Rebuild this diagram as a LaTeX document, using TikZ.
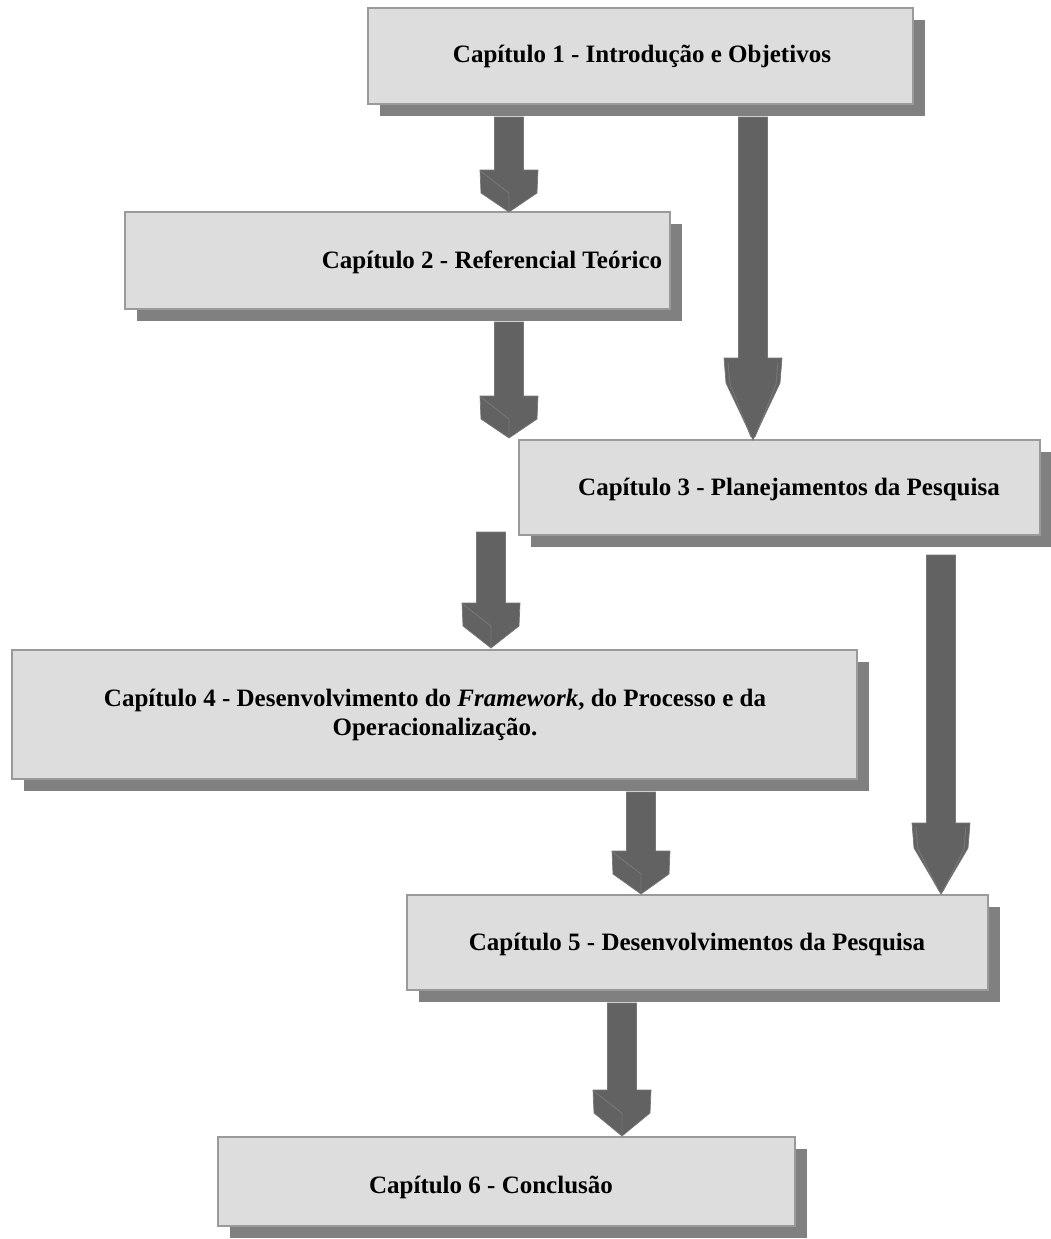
\documentclass[tikz,border=0pt]{standalone}
\usepackage{fontspec}
\setmainfont{Liberation Serif}
\usetikzlibrary{calc}

\definecolor{boxfill}{HTML}{DDDDDD}
\definecolor{boxline}{HTML}{9A9A9A}
\definecolor{shadowc}{HTML}{808080}
\definecolor{arrowc}{HTML}{626262}
\definecolor{arrowedge}{HTML}{777777}

\tikzset{
  chapbox/.style={draw=boxline, line width=1.2pt, fill=boxfill, inner sep=0pt, outer sep=0pt, anchor=north west},
  chapshadow/.style={fill=shadowc},
  chaptext/.style={font=\fontsize{25}{28.5}\selectfont\bfseries, align=center, inner sep=0pt},
  blockarrow/.style={fill=arrowc, draw=arrowedge, line width=0.7pt, line join=miter},
  facet/.style={draw=arrowedge, line width=0.9pt},
}

% chapter box with drop shadow: name, x1, y1, x2, y2 (pixel-style coordinates)
\newcommand\chapterbox[5]{%
  \fill[chapshadow] (#2+12,#3+12) rectangle (#4+12,#5+12);
  \node[chapbox, minimum width={(#4-#2)*1pt}, minimum height={(#5-#3)*1pt}] (#1) at (#2,#3) {};
}

% short block arrow: x, shaft top, head top, tip
\newcommand\shortarrow[4]{%
  \draw[blockarrow] (#1-14.5,#2) -- (#1+14.5,#2) -- (#1+14.5,#3) -- (#1+29,#3)
    -- (#1+28,#3+23) -- (#1,#4) -- (#1-28,#3+23) -- (#1-29,#3) -- (#1-14.5,#3) -- cycle;
  \draw[facet] (#1-28.5,#3+1) -- (#1,#3+23) -- (#1,#4-1);
}

% long block arrow with a tapered head: x, shaft top, head top, tip
\newcommand\longarrow[4]{%
  \draw[blockarrow] (#1-14.5,#2) -- (#1+14.5,#2) -- (#1+14.5,#3) -- (#1+29,#3)
    -- (#1+27,#3+25) -- (#1,#4) -- (#1-27,#3+25) -- (#1-29,#3) -- (#1-14.5,#3) -- cycle;
  \draw[facet] (#1-25,#3+4) -- (#1-23,#3+26) -- (#1-2,#4-3);
  \draw[facet] (#1+25,#3+4) -- (#1+23,#3+26) -- (#1+2,#4-3);
}

\begin{document}
\begin{tikzpicture}[x=1pt, y=-1pt]
  \useasboundingbox (0,0) rectangle (1050,1239);

  % chapter boxes
  \chapterbox{c1}{368}{8}{913}{104}
  \chapterbox{c2}{125}{212}{670}{309}
  \chapterbox{c3}{519}{440}{1040}{535}
  \chapterbox{c4}{12}{650}{857}{779}
  \chapterbox{c5}{407}{895}{988}{990}
  \chapterbox{c6}{218}{1137}{795}{1226}

  % chapter titles
  \node[chaptext, anchor=base] (t1) at (642,63) {Capítulo 1 - Introdução e Objetivos};
  \node[chaptext, anchor=base] (t2) at (492,268) {Capítulo 2 - Referencial Teórico};
  \node[chaptext, anchor=base] (t3) at (789,495) {Capítulo 3 - Planejamentos da Pesquisa};
  \node[chaptext, anchor=center] (t4) at (435,715)
    {Capítulo 4 - Desenvolvimento do \textit{Framework}, do Processo e da\\Operacionalização.};
  \node[chaptext, anchor=base] (t5) at (697,950) {Capítulo 5 - Desenvolvimentos da Pesquisa};
  \node[chaptext, anchor=base] (t6) at (491,1193) {Capítulo 6 - Conclusão};

  % flow between chapters
  \shortarrow{509}{117}{170}{212}
  \shortarrow{509}{322}{396}{438}
  \longarrow{753}{117}{358}{440}
  \shortarrow{491}{532}{603}{648}
  \longarrow{941}{555}{823}{894}
  \shortarrow{641}{792}{851}{894}
  \shortarrow{622}{1003}{1090}{1136}
\end{tikzpicture}
\end{document}
